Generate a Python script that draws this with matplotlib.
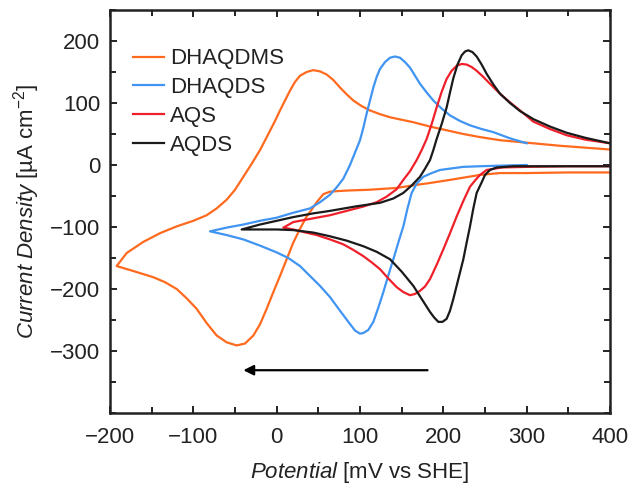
import matplotlib
matplotlib.use("Agg")
import matplotlib.pyplot as plt
from matplotlib.ticker import MultipleLocator

plt.rcParams['font.family'] = ['Liberation Sans', 'DejaVu Sans']
plt.rcParams['mathtext.fontset'] = 'custom'
plt.rcParams['mathtext.rm'] = 'Liberation Sans'
plt.rcParams['mathtext.it'] = 'Liberation Sans:italic'
plt.rcParams['mathtext.sf'] = 'Liberation Sans'

# ---- data (potential mV vs SHE, current density uA/cm2) ----
dhaqdms_x = [400, 350, 300, 268, 244, 208, 184, 168, 144, 110, 88, 74, 64, 56, 48, 42, 36, 28, 20, 12, 4, -4,
             -12, -20, -28, -38, -48, -60, -72, -84, -96, -108, -120, -134, -148, -160, -172, -182, -192,
             -180, -160, -140, -120, -100, -84, -72, -60, -50, -40, -30, -20, -10, -2, 4, 10, 16, 22, 28,
             36, 44, 52, 60, 68, 76, 84, 92, 102, 112, 124, 136, 150, 164, 184, 204, 224, 244, 268, 300,
             340, 370, 400]
dhaqdms_y = [-12, -12, -13, -13, -16, -24, -29, -32, -37, -40, -41, -42, -43, -47, -60, -72, -83, -103, -125, -152, -179, -205,
             -232, -257, -275, -288, -291, -286, -275, -255, -232, -215, -200, -189, -181, -176, -171, -167, -163,
             -142, -124, -110, -99, -90, -81, -70, -56, -40, -19, 2, 24, 50, 71, 88, 104, 120, 134, 144,
             150, 153, 151, 146, 137, 125, 114, 104, 95, 88, 82, 77, 73, 69, 62, 56, 50, 45, 40, 36,
             31, 28, 25]

dhaqds_x = [300, 270, 244, 224, 196, 186, 176, 168, 162, 157, 152, 146, 140, 134, 128, 122, 116, 110, 104, 100,
            94, 86, 76, 64, 52, 40, 28, 14, 0, -20, -40, -60, -80,
            -60, -40, -20, 0, 20, 40, 52, 64, 72, 80, 88, 94, 100, 104, 108, 112, 116, 120, 124, 130,
            136, 142, 148, 154, 160, 166, 172, 180, 188, 198, 208, 220, 232, 246, 260, 280, 300]
dhaqds_y = [0, -1, -2, -3, -8, -13, -19, -30, -45, -70, -99, -125, -152, -178, -205, -230, -253, -266, -271, -272,
            -267, -253, -235, -213, -195, -179, -163, -150, -141, -130, -120, -113, -107,
            -101, -96, -90, -85, -77, -70, -60, -48, -36, -22, 0, 20, 40, 60, 83, 104, 125, 142, 155, 166,
            173, 175, 173, 166, 157, 144, 131, 117, 104, 91, 80, 71, 64, 58, 53, 43, 35]

aqs_x = [400, 350, 300, 270, 252, 244, 238, 232, 224, 216, 208, 200, 192, 184, 178, 172, 166, 160, 152, 144,
         134, 124, 114, 104, 92, 80, 64, 48, 32, 20, 8,
         20, 40, 64, 84, 104, 120, 132, 144, 152, 160, 168, 174, 180, 186, 192, 198, 204, 210, 216, 222,
         228, 234, 240, 248, 256, 268, 280, 292, 308, 328, 348, 370, 400]
aqs_y = [-2, -2, -3, -4, -8, -16, -25, -35, -58, -83, -110, -136, -161, -184, -196, -203, -208, -210, -205, -197,
         -183, -168, -157, -147, -137, -128, -120, -113, -108, -104, -101,
         -92, -87, -81, -74, -67, -60, -51, -39, -24, -10, 8, 24, 42, 66, 93, 118, 139, 152, 160, 163,
         162, 158, 152, 142, 131, 115, 101, 88, 70, 58, 48, 41, 35]

aqds_x = [400, 340, 284, 264, 256, 250, 246, 240, 236, 232, 228, 224, 218, 212, 208, 204, 199, 194, 189, 184,
          174, 164, 150, 136, 120, 104, 84, 64, 44, 20, 0, -20, -42,
          -20, 0, 20, 44, 64, 94, 124, 140, 152, 162, 172, 178, 184, 188, 192, 198, 204, 208, 212, 217,
          222, 226, 230, 235, 240, 246, 252, 260, 268, 280, 292, 308, 328, 348, 370, 400]
aqds_y = [-2, -2, -2, -4, -8, -16, -28, -45, -70, -99, -125, -152, -184, -216, -235, -248, -253, -253, -246, -237,
          -216, -195, -172, -152, -140, -131, -122, -115, -109, -105, -104, -104, -104,
          -96, -90, -84, -78, -74, -67, -61, -54, -45, -33, -19, -6, 8, 24, 42, 66, 93, 117, 140, 162,
          177, 183, 185, 182, 175, 162, 147, 130, 115, 100, 87, 74, 62, 52, 44, 35]

labels = ['DHAQDMS', 'DHAQDS', 'AQS', 'AQDS']
colors = ['#FF6A1E', '#4094F2', '#F0202A', '#1A1A1A']

arrow_tail = (181, -331)
arrow_head = (-40, -331)

xticks = [-200, -100, 0, 100, 200, 300, 400]
yticks = [-300, -200, -100, 0, 100, 200]

# ---- figure ----
fig = plt.figure(figsize=(6.35, 4.9), dpi=100)
ax = fig.add_axes([110/635, 77/490, 500/635, 403/490])

series = [(dhaqdms_x, dhaqdms_y), (dhaqds_x, dhaqds_y), (aqs_x, aqs_y), (aqds_x, aqds_y)]
for (xs, ys), lab, c in zip(series, labels, colors):
    ax.plot(xs, ys, color=c, lw=1.6, label=lab, solid_joinstyle='round', antialiased=True)

ax.annotate('', xy=arrow_head, xytext=arrow_tail,
            arrowprops=dict(arrowstyle='-|>', lw=1.6, color='black', mutation_scale=15,
                            shrinkA=0, shrinkB=0))

ax.set_xlim(-200, 400)
ax.set_ylim(-400, 250)
ax.set_xticks(xticks)
ax.set_yticks(yticks)
ax.xaxis.set_minor_locator(MultipleLocator(50))
ax.yaxis.set_minor_locator(MultipleLocator(50))
ax.tick_params(which='both', direction='in', top=True, right=True, width=1.4, color='#222222')
ax.tick_params(which='major', length=5, labelsize=16, labelcolor='#222222')
ax.tick_params(axis='x', which='major', pad=10)
ax.tick_params(axis='y', which='major', pad=7)
ax.tick_params(which='minor', length=4)
ax.tick_params(axis='x', labeltop=False)
ax.tick_params(axis='y', labelright=False)
for s in ax.spines.values():
    s.set_linewidth(1.8)
    s.set_color('#222222')

ax.set_xlabel(r'$\it{Potential}$ [mV vs SHE]', fontsize=16, color='#222222', labelpad=9)
ax.set_ylabel(r'$\it{Current\ Density}$ [µA cm$^{-2}$]', fontsize=16, color='#222222', labelpad=6)

leg = ax.legend(loc='upper left', bbox_to_anchor=(0.045, 0.905), frameon=False, fontsize=16,
                handlelength=1.4, handletextpad=0.3, labelspacing=0.35, borderaxespad=0, borderpad=0)
for t in leg.get_texts():
    t.set_color('#222222')

fig.savefig('out.png', dpi=100)
